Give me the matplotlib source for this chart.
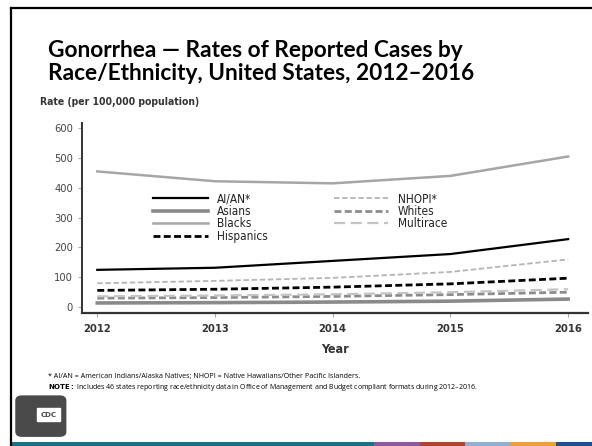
import matplotlib
matplotlib.use("Agg")
import matplotlib.pyplot as plt
from matplotlib.patches import FancyBboxPatch, Rectangle
from matplotlib.lines import Line2D

# Data (rate per 100,000 population)
years = [2012, 2013, 2014, 2015, 2016]
aian = [125, 132, 155, 178, 228]
asians = [14, 15, 17, 20, 27]
blacks = [455, 422, 415, 440, 505]
hispanics = [56, 60, 67, 78, 97]
nhopi = [80, 88, 98, 118, 160]
whites = [30, 32, 36, 42, 50]
multirace = [36, 39, 43, 50, 60]

labels = ["AI/AN*", "Asians", "Blacks", "Hispanics", "NHOPI*", "Whites", "Multirace"]
y_ticks = [0, 100, 200, 300, 400, 500, 600]

series = [aian, asians, blacks, hispanics, nhopi, whites, multirace]
styles = [
    dict(color="black", lw=1.6, ls="-"),
    dict(color="#8a8a8a", lw=2.6, ls="-"),
    dict(color="#a6a6a6", lw=1.8, ls="-"),
    dict(color="black", lw=2.0, ls=(0, (2.5, 1.2))),
    dict(color="#b4b4b4", lw=1.3, ls=(0, (3, 1.5))),
    dict(color="#8c8c8c", lw=2.0, ls=(0, (2.5, 1.2))),
    dict(color="#c4c4c4", lw=1.6, ls=(0, (5, 2.5))),
]

cond = dict(family="DejaVu Sans", stretch="condensed")
title_font = ["Lato", "DejaVu Sans"]

fig = plt.figure(figsize=(5.92, 4.46), dpi=100)

# slide frame
fig.add_artist(Line2D([0.019, 1.0], [0.982, 0.982], color="black", lw=1.6, transform=fig.transFigure))
fig.add_artist(Line2D([0.019, 0.019], [0.0, 0.982], color="black", lw=1.6, transform=fig.transFigure))

# coloured strip at bottom of the slide
strip = [(0.019, 0.632, "#1d6f84"), (0.632, 0.71, "#8b5a9e"), (0.71, 0.785, "#b0452f"),
         (0.785, 0.862, "#8fb1cf"), (0.862, 0.94, "#e9a23b"), (0.94, 1.0, "#1f4f8f")]
for x0, x1, c in strip:
    fig.add_artist(Rectangle((x0, 0.0), x1 - x0, 0.008, color=c, transform=fig.transFigure, lw=0))

fig.text(0.081, 0.886, "Gonorrhea \u2014 Rates of Reported Cases by", fontsize=16.3,
         fontweight="bold", family=title_font, va="center")
fig.text(0.081, 0.836, "Race/Ethnicity, United States, 2012\u20132016", fontsize=16.3,
         fontweight="bold", family=title_font, va="center")

ax = fig.add_axes([0.1385, 0.298, 0.855, 0.426])
for vals, st in zip(series, styles):
    ax.plot(years, vals, **st)

ax.set_xlim(2011.87, 2016.17)
ax.set_ylim(-20, 617)
ax.set_xticks(years)
ax.set_xticklabels([str(y) for y in years], fontsize=8, fontweight="bold", color="#333333", **cond)
ax.set_yticks(y_ticks)
ax.set_yticklabels([str(v) for v in y_ticks], fontsize=8, color="#444444", **cond)
ax.tick_params(axis="both", length=3, color="#aaaaaa", width=0.8)
ax.tick_params(axis="x", pad=5)
for s in ["top", "right"]:
    ax.spines[s].set_visible(False)
ax.spines["left"].set_linewidth(1.4)
ax.spines["bottom"].set_linewidth(1.6)
ax.spines["left"].set_color("#333333")
ax.spines["bottom"].set_color("#333333")

ax.set_xlabel("Year", fontsize=9, fontweight="bold", color="#333333", labelpad=6, **cond)
fig.text(0.068, 0.771, "Rate (per 100,000 population)", fontsize=7.5,
         fontweight="bold", color="#333333", va="center", **cond)

leg = ax.legend(labels, ncol=2, loc="upper left", bbox_to_anchor=(0.12, 0.69), frameon=False,
                handlelength=4.6, columnspacing=5.6, labelspacing=-0.05, handletextpad=0.8,
                prop=dict(family="DejaVu Sans", stretch="condensed", size=8.5))
for t in leg.get_texts():
    t.set_color("#222222")

foot = ["Open Sans", "DejaVu Sans"]
fig.text(0.081, 0.155, "* AI/AN = American Indians/Alaska Natives; NHOPI = Native Hawaiians/Other Pacific Islanders.",
         fontsize=5.1, family=foot, va="center")
fig.text(0.081, 0.132, "$\\bf{NOTE:}$ Includes 46 states reporting race/ethnicity data in Office of Management and Budget compliant formats during 2012\u20132016.",
         fontsize=5.0, family=foot, va="center")

# CDC logo block
fig.add_artist(FancyBboxPatch((0.027, 0.022), 0.084, 0.09, boxstyle="round,pad=0,rounding_size=0.01",
                              color="#4a4a4a", transform=fig.transFigure))
fig.add_artist(Rectangle((0.062, 0.055), 0.04, 0.03, color="white", transform=fig.transFigure))
fig.text(0.082, 0.07, "CDC", fontsize=5, fontweight="bold", color="#4a4a4a", ha="center", va="center")

fig.savefig("out.png", dpi=100)
